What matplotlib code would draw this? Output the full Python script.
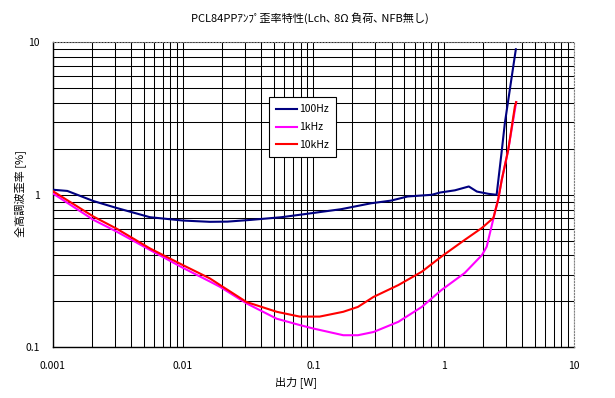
import matplotlib.pyplot as plt
from matplotlib.ticker import LogLocator, FixedLocator, NullFormatter

plt.rcParams['font.family'] = ['Noto Sans CJK JP', 'DejaVu Sans']

# output power [W] / THD [%]
x_100 = [0.001, 0.0013, 0.0017, 0.00206, 0.0031, 0.00559, 0.01, 0.0161, 0.022,
         0.0334, 0.057, 0.085, 0.164, 0.278, 0.395, 0.53, 0.81, 0.94, 1.22,
         1.56, 1.8, 2.2, 2.55, 2.78, 2.95, 3.22, 3.58]
y_100 = [1.08, 1.06, 0.97, 0.91, 0.82, 0.713, 0.678, 0.665, 0.667,
         0.685, 0.713, 0.746, 0.805, 0.88, 0.916, 0.975, 1.0, 1.035, 1.07,
         1.134, 1.05, 1.015, 1.0, 1.88, 2.96, 4.9, 9.0]

x_1k = [0.001, 0.00206, 0.0031, 0.00559, 0.01, 0.0161, 0.0193, 0.0308, 0.0524,
        0.0786, 0.0993, 0.17, 0.22, 0.29, 0.45, 0.68, 0.96, 1.45, 1.97, 2.14,
        2.5, 2.62, 2.79, 3.13, 3.6]
y_1k = [1.025, 0.685, 0.574, 0.435, 0.332, 0.27, 0.249, 0.194, 0.154,
        0.14, 0.133, 0.12, 0.12, 0.126, 0.147, 0.184, 0.237, 0.307, 0.403, 0.457,
        0.797, 0.93, 1.25, 1.97, 4.05]

x_10k = [0.001, 0.00206, 0.0031, 0.00559, 0.01, 0.0161, 0.0193, 0.0308, 0.0524,
         0.0786, 0.112, 0.17, 0.22, 0.29, 0.45, 0.68, 0.96, 1.45, 1.97, 2.41,
         2.62, 2.79, 3.13, 3.52, 3.6]
y_10k = [1.06, 0.72, 0.60, 0.445, 0.346, 0.283, 0.256, 0.198, 0.171,
         0.159, 0.159, 0.171, 0.184, 0.214, 0.256, 0.313, 0.393, 0.506, 0.607, 0.706,
         0.93, 1.25, 1.97, 3.8, 4.05]

labels = ['100Hz', '1kHz', '10kHz']
colors = ['#000080', '#FF00FF', '#FF0000']

fig = plt.figure(figsize=(6.15, 3.98), dpi=100)
W, H = 615, 398
ax = fig.add_axes([52.5 / W, 1 - 347.3 / H, (574 - 52.5) / W, (347.3 - 42.3) / H])

for xs, ys, lab, c in zip([x_100, x_1k, x_10k], [y_100, y_1k, y_10k], labels, colors):
    ax.plot(xs, ys, color=c, lw=1.5, label=lab, zorder=3)

ax.set_xscale('log')
ax.set_yscale('log')
ax.set_xlim(0.001, 10)
ax.set_ylim(0.1, 10)

ax.xaxis.set_major_locator(FixedLocator([0.001, 0.01, 0.1, 1, 10]))
ax.yaxis.set_major_locator(FixedLocator([0.1, 1, 10]))
ax.set_xticklabels(['0.001', '0.01', '0.1', '1', '10'])
ax.set_yticklabels(['0.1', '1', '10'])
ax.xaxis.set_minor_locator(LogLocator(base=10, subs=range(2, 10)))
ax.yaxis.set_minor_locator(LogLocator(base=10, subs=range(2, 10)))
ax.xaxis.set_minor_formatter(NullFormatter())
ax.yaxis.set_minor_formatter(NullFormatter())
ax.tick_params(which='both', length=0, labelsize=7.5)
ax.tick_params(axis='x', pad=10)
ax.tick_params(axis='y', pad=9)

ax.grid(True, which='both', color='black', lw=0.75)
ax.set_axisbelow(True)

for side in ['left', 'bottom']:
    ax.spines[side].set_color('black')
    ax.spines[side].set_linewidth(1.0)
for side in ['top', 'right']:
    ax.spines[side].set_color('#808080')
    ax.spines[side].set_linestyle(':')
    ax.spines[side].set_linewidth(0.8)
    ax.spines[side].set_zorder(4)

leg = ax.legend(loc='upper left', bbox_to_anchor=(0.415, 0.82), borderaxespad=0,
                fontsize=7.5, frameon=True, fancybox=False, framealpha=1,
                edgecolor='black', handlelength=2.0, handletextpad=0.2,
                labelspacing=0.75, borderpad=0.7)
leg.get_frame().set_linewidth(0.8)

fig.text(310 / W, 1 - 18 / H, 'PCL84PPｱﾝﾌﾟ歪率特性(Lch､ 8Ω 負荷､ NFB無し)',
         ha='center', va='center', fontsize=8)
fig.text(296 / W, 1 - 381.7 / H, '出力 [W]', ha='center', va='center', fontsize=8)
fig.text(20.5 / W, 1 - 194 / H, '全高調波歪率 [%]', ha='center', va='center',
         rotation=90, fontsize=8)

fig.savefig('out.png', dpi=100)
